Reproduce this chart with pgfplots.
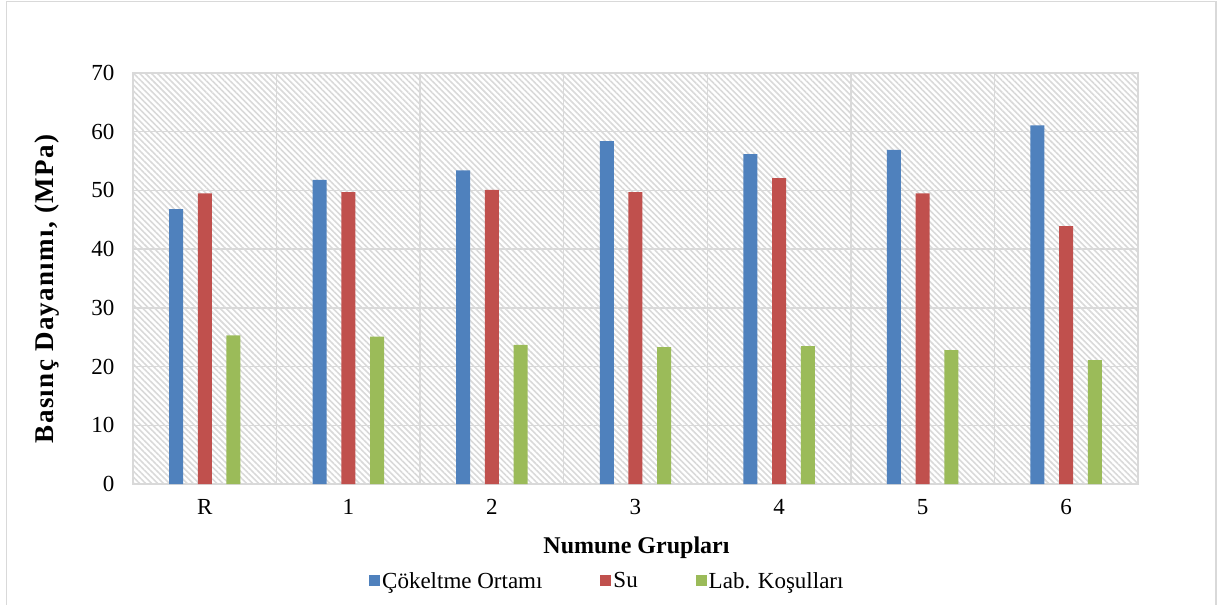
\documentclass[border=0pt]{standalone}
\usepackage{pgfplots}
\pgfplotsset{compat=1.18}
\usepackage{fontspec}
\setmainfont{Liberation Serif}
\usetikzlibrary{patterns.meta}
\definecolor{cblue}{HTML}{4F81BD}
\definecolor{cred}{HTML}{C0504D}
\definecolor{cgreen}{HTML}{9BBB59}
\begin{document}
\begin{tikzpicture}
\begin{axis}[
  scale only axis, width=1005bp, height=411bp,
  xmin=-0.5, xmax=6.5, ymin=0, ymax=70,
  ytick={0,10,...,70},
  xtick={0,...,6}, xticklabels={R,1,2,3,4,5,6},
  minor xtick={0.5,1.5,...,5.5},
  xminorgrids, ymajorgrids,
  major tick length=0, minor tick length=0,
  axis line style={draw=gray!30, line width=1.5bp},
  major grid style={draw=gray!30, line width=1.5bp},
  minor grid style={draw=gray!30, line width=1.5bp},
  axis background/.style={pattern={Lines[angle=-45,distance=4.2bp,line width=1.6bp]}, pattern color=gray!30},
  ybar=14.7bp, bar width=14bp,
  /pgf/number format/assume math mode=true,
  tick label style={font=\fontsize{23bp}{27bp}\selectfont},
  yticklabel style={xshift=-15bp},
  xticklabel style={yshift=-12bp},
  xlabel={Numune Grupları},
  ylabel={Basınç Dayanımı, (MPa)},
  xlabel style={font=\fontsize{24bp}{28bp}\selectfont\bfseries, at={(axis description cs:0.501,-0.1557)}, anchor=center},
  ylabel style={font=\fontsize{27bp}{31bp}\selectfont\bfseries\addfontfeature{LetterSpace=5}, at={(axis description cs:-0.0856,0.4745)}, anchor=center},
  legend columns=3,
  legend style={draw=none, fill=none, font=\fontsize{23bp}{27bp}\selectfont,
    at={(axis description cs:0.472,-0.236)}, anchor=center,
    /tikz/every even column/.append style={column sep=56bp}},
  legend image code/.code={\fill[#1,draw=none] (0bp,-5.5bp) rectangle (11bp,5.5bp);},
]
\addplot[fill=cblue, draw=none] coordinates {(0,46.8) (1,51.8) (2,53.4) (3,58.4) (4,56.2) (5,56.9) (6,61.1)};
\addplot[fill=cred, draw=none] coordinates {(0,49.5) (1,49.7) (2,50.1) (3,49.7) (4,52.1) (5,49.5) (6,43.9)};
\addplot[fill=cgreen, draw=none] coordinates {(0,25.3) (1,25.1) (2,23.7) (3,23.3) (4,23.5) (5,22.8) (6,21.1)};
\legend{Çökeltme Ortamı, Su, Lab. Koşulları}
\end{axis}
\useasboundingbox (-133bp,-121bp) rectangle (1084bp,484bp);
\draw[gray!30, line width=1.5bp] (-126.5bp,-130bp) -- (-126.5bp,482.5bp) -- (1083bp,482.5bp) -- (1083bp,-130bp);
\end{tikzpicture}
\end{document}
